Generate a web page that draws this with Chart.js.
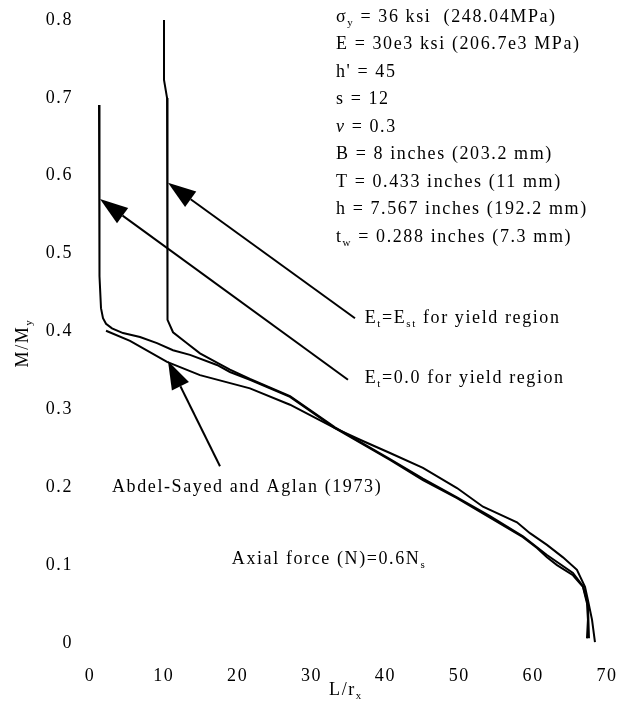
<!DOCTYPE html>
<html>
<head>
<meta charset="utf-8">
<script src="https://cdn.jsdelivr.net/npm/chart.js@4.4.1/dist/chart.umd.min.js"></script>
<style>
  html, body { margin: 0; padding: 0; background: #fff; }
  canvas { display: block; }
</style>
</head>
<body>
<canvas id="c" width="630" height="710"></canvas>
<script>
// Moment capacity M/My against slenderness L/rx, axial force N = 0.6 Ns

// E_t = 0.0 for yield region
const etZeroX = [1.22, 1.22, 1.35, 1.49, 1.76, 2.17, 2.98, 4.47, 6.77, 9.07, 11.24, 13.54, 17.19, 18.95, 21.66,
  27.08, 33.17, 40.62, 45.08, 49.69, 54.16, 58.62, 60.52, 61.87, 63.23, 65.39, 66.75, 67.29, 67.42, 67.29];
const etZeroY = [0.691, 0.476, 0.471, 0.430, 0.417, 0.410, 0.404, 0.398, 0.393, 0.385, 0.376, 0.370, 0.357, 0.348, 0.338,
  0.316, 0.276, 0.235, 0.209, 0.186, 0.161, 0.136, 0.122, 0.110, 0.100, 0.087, 0.072, 0.051, 0.030, 0.006];

// E_t = E_st for yield region
const etStX = [10.02, 10.02, 10.43, 10.43, 10.56, 11.24, 13.13, 14.89, 17.19, 18.95, 21.66,
  27.08, 33.17, 40.62, 45.08, 49.69, 54.16, 58.62, 61.87, 65.39, 66.75, 67.42, 67.56];
const etStY = [0.803, 0.723, 0.700, 0.440, 0.415, 0.399, 0.385, 0.372, 0.360, 0.351, 0.339,
  0.317, 0.277, 0.236, 0.211, 0.187, 0.163, 0.137, 0.113, 0.090, 0.073, 0.049, 0.006];

// Abdel-Sayed and Aglan (1973)
const abdelX = [2.17, 5.42, 10.43, 14.89, 21.66, 27.08, 33.17, 36.56, 40.62, 45.08, 49.69, 53.21, 57.81,
  59.57, 61.87, 64.04, 65.93, 67.02, 67.42, 67.97, 68.37];
const abdelY = [0.401, 0.388, 0.361, 0.344, 0.327, 0.306, 0.276, 0.261, 0.244, 0.225, 0.199, 0.175, 0.155,
  0.141, 0.126, 0.110, 0.094, 0.072, 0.055, 0.030, 0.001];

const xTicks = [0, 10, 20, 30, 40, 50, 60, 70];
const yTicks = [0, 0.1, 0.2, 0.3, 0.4, 0.5, 0.6, 0.7, 0.8];

const FAM = '"Liberation Serif", "Times New Roman", serif';

function pts(xs, ys) { return xs.map((x, i) => ({ x: x, y: ys[i] })); }

function lineSet(label, xs, ys) {
  return {
    label: label, data: pts(xs, ys), showLine: true, fill: false,
    borderColor: '#000', borderWidth: 2, pointRadius: 0, tension: 0
  };
}

// text made of normal and subscript pieces
function richWidth(ctx, parts) {
  let w = 0;
  for (const p of parts) {
    ctx.font = (p.i ? 'italic ' : '') + (p.s ? '11px ' : '18px ') + FAM;
    w += ctx.measureText(p.t).width;
  }
  return w;
}
function drawRich(ctx, parts, x, y) {
  let cx = x;
  for (const p of parts) {
    ctx.font = (p.i ? 'italic ' : '') + (p.s ? '11px ' : '18px ') + FAM;
    ctx.fillText(p.t, cx, y + (p.s ? 6 : 0));
    cx += ctx.measureText(p.t).width;
  }
}

function arrow(ctx, x0, y0, x1, y1) {
  const a = Math.atan2(y1 - y0, x1 - x0);
  const len = 28, hw = 9.5;
  const bx = x1 - len * Math.cos(a), by = y1 - len * Math.sin(a);
  ctx.beginPath();
  ctx.moveTo(x0, y0);
  ctx.lineTo(bx, by);
  ctx.lineWidth = 2;
  ctx.strokeStyle = '#000';
  ctx.stroke();
  ctx.beginPath();
  ctx.moveTo(x1, y1);
  ctx.lineTo(bx + hw * Math.sin(a), by - hw * Math.cos(a));
  ctx.lineTo(bx - hw * Math.sin(a), by + hw * Math.cos(a));
  ctx.closePath();
  ctx.fillStyle = '#000';
  ctx.fill();
}

const paramLines = [
  [{ t: 'σ' }, { t: 'y', s: 1 }, { t: ' = 36 ksi  (248.04MPa)' }],
  [{ t: 'E = 30e3 ksi (206.7e3 MPa)' }],
  [{ t: "h' = 45" }],
  [{ t: 's = 12' }],
  [{ t: 'ν', i: 1 }, { t: ' = 0.3' }],
  [{ t: 'B = 8 inches (203.2 mm)' }],
  [{ t: 'T = 0.433 inches (11 mm)' }],
  [{ t: 'h = 7.567 inches (192.2 mm)' }],
  [{ t: 't' }, { t: 'w', s: 1 }, { t: ' = 0.288 inches (7.3 mm)' }]
];

const notes = {
  id: 'notes',
  beforeDraw(chart) { chart.ctx.letterSpacing = '1.6px'; },
  afterDatasetsDraw(chart) {
    const ctx = chart.ctx;
    const sx = chart.scales.x, sy = chart.scales.y;
    const X = v => sx.getPixelForValue(v), Y = v => sy.getPixelForValue(v);
    ctx.save();
    ctx.letterSpacing = '1.6px';
    ctx.fillStyle = '#000';
    ctx.textBaseline = 'middle';
    ctx.textAlign = 'left';

    // pointer arrows
    arrow(ctx, X(35.88), Y(0.417), X(10.56), Y(0.591));
    arrow(ctx, X(34.93), Y(0.338), X(1.35), Y(0.570));
    arrow(ctx, X(17.6), Y(0.227), X(10.56), Y(0.362));

    // section and material data
    paramLines.forEach((parts, k) => {
      drawRich(ctx, parts, X(33.3), Y(0.804) + k * 27.5);
    });

    drawRich(ctx, [{ t: 'E' }, { t: 't', s: 1 }, { t: '=E' }, { t: 'st', s: 1 }, { t: ' for yield region' }], X(37.2), Y(0.417));
    drawRich(ctx, [{ t: 'E' }, { t: 't', s: 1 }, { t: '=0.0 for yield region' }], X(37.2), Y(0.340));
    drawRich(ctx, [{ t: 'Abdel-Sayed and Aglan (1973)' }], X(2.98), Y(0.200));
    drawRich(ctx, [{ t: 'Axial force (N)=0.6N' }, { t: 's', s: 1 }], X(19.2), Y(0.108));

    // axis titles
    const xt = [{ t: 'L/r' }, { t: 'x', s: 1 }];
    drawRich(ctx, xt, 346 - richWidth(ctx, xt) / 2, 690);
    const yt = [{ t: 'M/M' }, { t: 'y', s: 1 }];
    ctx.translate(23, 343);
    ctx.rotate(-Math.PI / 2);
    drawRich(ctx, yt, -richWidth(ctx, yt) / 2, 0);
    ctx.restore();
  }
};

new Chart(document.getElementById('c'), {
  type: 'scatter',
  data: {
    datasets: [
      lineSet('E_t=0.0', etZeroX, etZeroY),
      lineSet('E_t=E_st', etStX, etStY),
      lineSet('Abdel-Sayed and Aglan (1973)', abdelX, abdelY)
    ]
  },
  options: {
    responsive: false,
    animation: false,
    layout: { padding: { left: 0, right: 23, top: 20, bottom: 0 } },
    plugins: { legend: { display: false }, tooltip: { enabled: false } },
    scales: {
      x: {
        type: 'linear', min: 0, max: 70,
        afterBuildTicks: s => { s.ticks = xTicks.map(v => ({ value: v })); },
        afterFit: s => { s.height = 67; s.paddingLeft = 0; s.paddingRight = 0; },
        grid: { display: false, drawTicks: false },
        border: { display: false },
        ticks: { color: '#000', font: { family: FAM, size: 18 }, padding: 22, maxRotation: 0 }
      },
      y: {
        type: 'linear', min: 0, max: 0.8,
        afterBuildTicks: s => { s.ticks = yTicks.map(v => ({ value: v })); },
        afterFit: s => { s.width = 90; s.paddingTop = 0; s.paddingBottom = 0; },
        grid: { display: false, drawTicks: false },
        border: { display: false },
        ticks: { color: '#000', font: { family: FAM, size: 18 }, padding: 17,
          callback: v => String(v) }
      }
    }
  },
  plugins: [notes]
});
</script>
</body>
</html>
